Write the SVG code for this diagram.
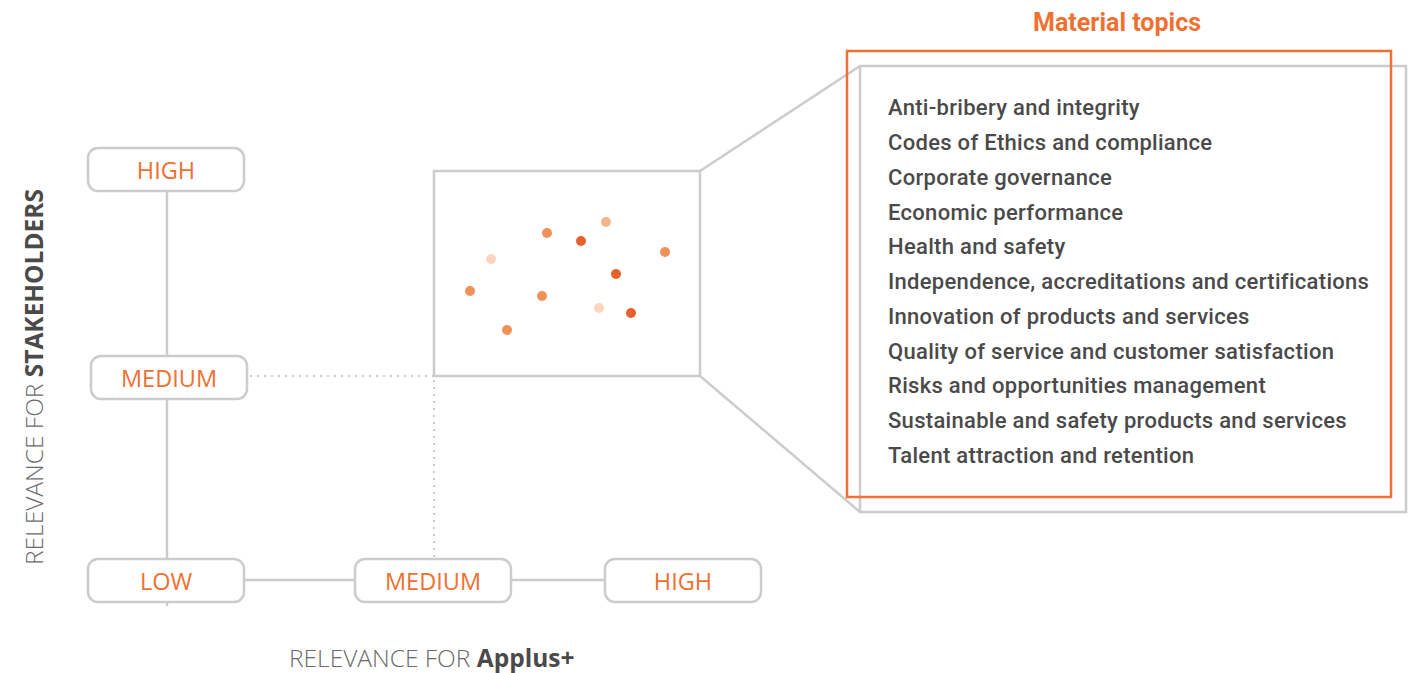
<svg xmlns="http://www.w3.org/2000/svg" width="1423" height="673" viewBox="0 0 1423 673">
<style>
.box{fill:#fff;stroke:#cccccc;stroke-width:2.5}
.lbl{font-family:"Open Sans","Liberation Sans",sans-serif;font-size:23.5px;fill:#f07032;text-anchor:middle}
.ln{stroke:#cccccc;stroke-width:2.5;fill:none}
.dot{stroke:#cccccc;stroke-width:2;stroke-dasharray:2 5;fill:none}
.item{font-family:Roboto,"Liberation Sans",sans-serif;font-size:22px;font-weight:500;fill:#4a4a4a;letter-spacing:0.3px}
.axis{font-family:"Open Sans","Liberation Sans",sans-serif;font-size:24.5px;fill:#6b6b6b;font-weight:300}
.c1{fill:#e8612c}.c2{fill:#f0915a}.c3{fill:#f5b48c}.c4{fill:#fbd5bd}
</style>
<g id="connectors">
<line class="ln" x1="167" y1="191" x2="167" y2="356"/>
<line class="ln" x1="167" y1="399" x2="167" y2="606"/>
<line class="ln" x1="244" y1="580" x2="355" y2="580"/>
<line class="ln" x1="511" y1="580" x2="605" y2="580"/>
<line class="dot" x1="250" y1="376" x2="433" y2="376"/>
<line class="dot" x1="434" y1="380" x2="434" y2="557"/>
<line class="ln" x1="700" y1="171" x2="860" y2="66"/>
<line class="ln" x1="700" y1="376" x2="860" y2="512"/>
</g>
<g id="y-high"><rect class="box" x="88" y="148" width="156" height="43" rx="10"/><text class="lbl" x="166" y="179">HIGH</text></g>
<g id="y-medium"><rect class="box" x="91" y="356" width="156" height="43" rx="10"/><text class="lbl" x="169" y="387">MEDIUM</text></g>
<g id="x-low"><rect class="box" x="88" y="559" width="156" height="43" rx="10"/><text class="lbl" x="166" y="590">LOW</text></g>
<g id="x-medium"><rect class="box" x="355" y="559" width="156" height="43" rx="10"/><text class="lbl" x="433" y="590">MEDIUM</text></g>
<g id="x-high"><rect class="box" x="605" y="559" width="156" height="43" rx="10"/><text class="lbl" x="683" y="590">HIGH</text></g>
<g id="scatter">
<rect class="box" x="434" y="171" width="266" height="205" fill="#fff"/>
<circle class="c2" cx="547" cy="233" r="5"/>
<circle class="c3" cx="606" cy="222" r="5"/>
<circle class="c1" cx="581" cy="241" r="5"/>
<circle class="c2" cx="665" cy="252" r="5"/>
<circle class="c4" cx="491" cy="259" r="5"/>
<circle class="c1" cx="616" cy="274" r="5"/>
<circle class="c2" cx="470" cy="291" r="5"/>
<circle class="c2" cx="542" cy="296" r="5"/>
<circle class="c4" cx="599" cy="308" r="5"/>
<circle class="c1" cx="631" cy="313" r="5"/>
<circle class="c2" cx="507" cy="330" r="5"/>
</g>
<g id="topics">
<rect x="860" y="66" width="546" height="446" fill="none" stroke="#cccccc" stroke-width="2.5"/>
<rect x="847" y="51" width="544" height="446" fill="none" stroke="#f07032" stroke-width="2.5"/>
<text x="1117" y="31" font-family="Roboto,'Liberation Sans',sans-serif" font-size="25" font-weight="700" fill="#f07032" text-anchor="middle">Material topics</text>
<text class="item" x="888" y="115">Anti-bribery and integrity</text>
<text class="item" x="888" y="150">Codes of Ethics and compliance</text>
<text class="item" x="888" y="185">Corporate governance</text>
<text class="item" x="888" y="220">Economic performance</text>
<text class="item" x="888" y="254">Health and safety</text>
<text class="item" x="888" y="289">Independence, accreditations and certifications</text>
<text class="item" x="888" y="324">Innovation of products and services</text>
<text class="item" x="888" y="359">Quality of service and customer satisfaction</text>
<text class="item" x="888" y="393">Risks and opportunities management</text>
<text class="item" x="888" y="428">Sustainable and safety products and services</text>
<text class="item" x="888" y="463">Talent attraction and retention</text>
</g>
<g id="axis-labels">
<text class="axis" transform="translate(43,377) rotate(-90)" text-anchor="middle">RELEVANCE FOR <tspan font-weight="700" fill="#4a4a4a">STAKEHOLDERS</tspan></text>
<text class="axis" x="289" y="667">RELEVANCE FOR <tspan font-weight="700" fill="#4a4a4a">Applus+</tspan></text>
</g>
</svg>
